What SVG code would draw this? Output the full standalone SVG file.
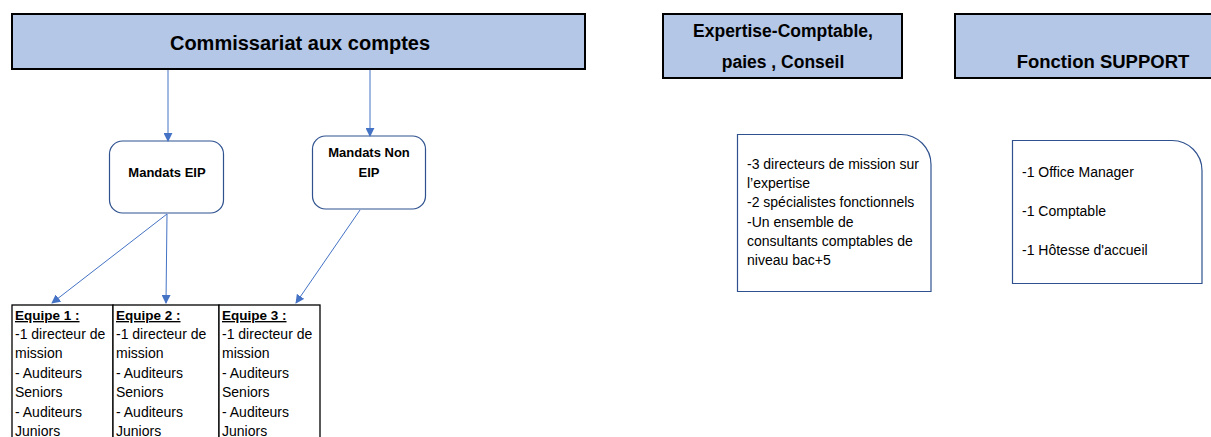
<svg xmlns="http://www.w3.org/2000/svg" width="1211" height="437" viewBox="0 0 1211 437">
<defs>
<style>
.hdr{fill:#b4c7e7;stroke:#000;stroke-width:2}
.ht{font-family:"Liberation Sans",Arial,sans-serif;font-weight:bold;font-size:17.5px;fill:#000}
.nb{fill:#fff;stroke:#2f528f;stroke-width:1.2}
.bt{font-family:"Liberation Sans",Arial,sans-serif;font-weight:bold;font-size:13px;fill:#000}
.t{font-family:"Liberation Sans",Arial,sans-serif;font-size:14px;fill:#000}
.tt{font-family:"Liberation Sans",Arial,sans-serif;font-size:14px;fill:#000}
.th{font-family:"Liberation Sans",Arial,sans-serif;font-size:13.5px;font-weight:bold;text-decoration:underline;fill:#000}
.cell{fill:#fff;stroke:#000;stroke-width:1.3}
.conn{stroke:#4472c4;stroke-width:1;fill:none;marker-end:url(#ah)}
</style>
<marker id="ah" viewBox="0 0 10 10" refX="9" refY="5" markerWidth="9" markerHeight="9" markerUnits="userSpaceOnUse" orient="auto">
<path d="M0,0 L10,5 L0,10 z" fill="#4472c4"/>
</marker>
</defs>
<g id="commissariat">
<rect class="hdr" x="12" y="14" width="573" height="55"/>
<text class="ht" x="300" y="50" text-anchor="middle" style="font-size:20px">Commissariat aux comptes</text>
</g>
<g id="expertise">
<rect class="hdr" x="663" y="14" width="239" height="64"/>
<text class="ht" x="783" y="37" text-anchor="middle">Expertise-Comptable,</text>
<text class="ht" x="783" y="68" text-anchor="middle">paies , Conseil</text>
</g>
<g id="support">
<rect class="hdr" x="955" y="14" width="260" height="64"/>
<text class="ht" x="1103" y="68" text-anchor="middle" style="font-size:18.5px">Fonction SUPPORT</text>
</g>
<g id="mandats-eip">
<rect class="nb" x="109.5" y="141" width="114" height="72" rx="13"/>
<text class="bt" x="167" y="177" text-anchor="middle">Mandats EIP</text>
</g>
<g id="mandats-non-eip">
<rect class="nb" x="312.5" y="136" width="113" height="73" rx="13"/>
<text class="bt" x="369" y="157" text-anchor="middle">Mandats Non</text>
<text class="bt" x="369" y="177" text-anchor="middle">EIP</text>
</g>
<g id="expertise-detail">
<path class="nb" d="M737.5,134.5 H901 A30,30 0 0 1 931,164.5 V291.5 H737.5 Z"/>
<text class="t" x="747" y="169">-3 directeurs de mission sur</text>
<text class="t" x="747" y="188">l’expertise</text>
<text class="t" x="747" y="207">-2 spécialistes fonctionnels</text>
<text class="t" x="747" y="227">-Un ensemble de</text>
<text class="t" x="747" y="246">consultants comptables de</text>
<text class="t" x="747" y="265">niveau bac+5</text>
</g>
<g id="support-detail">
<path class="nb" d="M1012.5,140.5 H1172 A30,30 0 0 1 1202,170.5 V283.5 H1012.5 Z"/>
<text class="t" x="1022" y="177">-1 Office Manager</text>
<text class="t" x="1022" y="216">-1 Comptable</text>
<text class="t" x="1022" y="255">-1 Hôtesse d'accueil</text>
</g>
<g id="equipe-1">
<rect class="cell" x="12" y="305" width="101" height="140"/>
<text class="th" x="15" y="320">Equipe 1 :</text>
<text class="tt" x="15" y="339">-1 directeur de</text>
<text class="tt" x="15" y="358">mission</text>
<text class="tt" x="15" y="378">- Auditeurs</text>
<text class="tt" x="15" y="397">Seniors</text>
<text class="tt" x="15" y="417">- Auditeurs</text>
<text class="tt" x="15" y="436">Juniors</text>
</g>
<g id="equipe-2">
<rect class="cell" x="113" y="305" width="106" height="140"/>
<text class="th" x="116" y="320">Equipe 2 :</text>
<text class="tt" x="116" y="339">-1 directeur de</text>
<text class="tt" x="116" y="358">mission</text>
<text class="tt" x="116" y="378">- Auditeurs</text>
<text class="tt" x="116" y="397">Seniors</text>
<text class="tt" x="116" y="417">- Auditeurs</text>
<text class="tt" x="116" y="436">Juniors</text>
</g>
<g id="equipe-3">
<rect class="cell" x="219" y="305" width="101" height="140"/>
<text class="th" x="222" y="320">Equipe 3 :</text>
<text class="tt" x="222" y="339">-1 directeur de</text>
<text class="tt" x="222" y="358">mission</text>
<text class="tt" x="222" y="378">- Auditeurs</text>
<text class="tt" x="222" y="397">Seniors</text>
<text class="tt" x="222" y="417">- Auditeurs</text>
<text class="tt" x="222" y="436">Juniors</text>
</g>
<g id="connectors">
<line class="conn" x1="168" y1="70" x2="168" y2="141"/>
<line class="conn" x1="370" y1="70" x2="370" y2="136"/>
<line class="conn" x1="167" y1="214" x2="52" y2="303"/>
<line class="conn" x1="167" y1="214" x2="166" y2="303"/>
<line class="conn" x1="360" y1="210" x2="296" y2="303"/>
</g>
</svg>
